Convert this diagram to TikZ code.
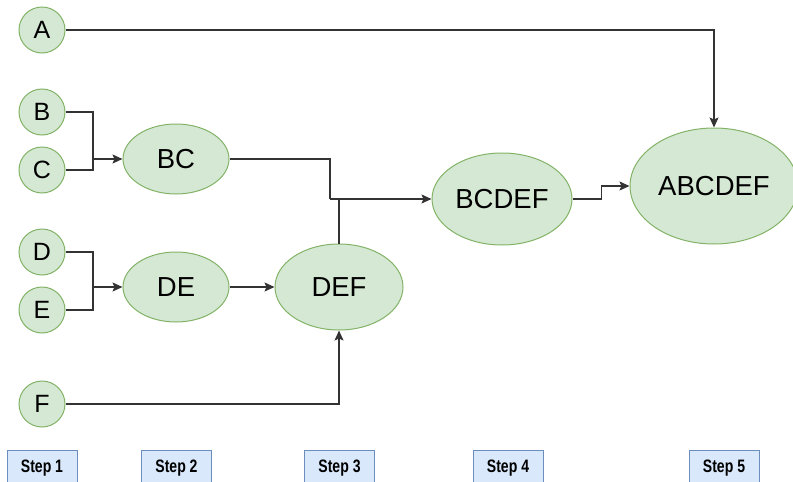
\documentclass[tikz,border=0pt]{standalone}
\usepackage{fontspec}
\setmainfont{Liberation Sans}
\newfontfamily\stepfont[FakeStretch=0.78]{Liberation Sans}
\usetikzlibrary{shapes.geometric,arrows.meta}
\definecolor{setfill}{HTML}{D5E8D4}
\definecolor{setline}{HTML}{82B366}
\definecolor{stepfill}{HTML}{DAE8FC}
\definecolor{stepline}{HTML}{6C8EBF}
\begin{document}
\begin{tikzpicture}[x=1pt, y=-1pt,
    leaf/.style={circle, draw=setline, fill=setfill, line width=1pt, minimum size=46pt, inner sep=0pt, font=\fontsize{25}{27}\selectfont},
    merged/.style={ellipse, draw=setline, fill=setfill, line width=1pt, inner sep=0pt, font=\fontsize{27.5}{30}\selectfont},
    stepbox/.style={draw=stepline, fill=stepfill, line width=1pt, minimum width=70pt, minimum height=36pt, inner sep=0pt, font=\stepfont\bfseries\fontsize{18}{20}\selectfont},
    link/.style={draw=black!80, line width=1.2pt},
    >={Stealth[length=10pt,width=9pt,inset=2pt]}]
\useasboundingbox (0,0) rectangle (793,482);

% Single elements (step 1)
\node[leaf] (A) at (42,30) {A};
\node[leaf] (B) at (42,112) {B};
\node[leaf] (C) at (42,170) {C};
\node[leaf] (D) at (42,252) {D};
\node[leaf] (E) at (42,310) {E};
\node[leaf] (F) at (42,404) {F};

% Merged sets
\node[merged, minimum width=106pt, minimum height=70pt] (BC) at (176,159) {BC};
\node[merged, minimum width=106pt, minimum height=70pt] (DE) at (176,287) {DE};
\node[merged, minimum width=128pt, minimum height=86pt] (DEF) at (339,287) {DEF};
\node[merged, minimum width=140pt, minimum height=92pt] (BCDEF) at (502,199) {BCDEF};
\node[merged, minimum width=168pt, minimum height=116pt] (ABCDEF) at (714,186) {ABCDEF};

% Junction points
\coordinate (bcj) at (93,159);
\coordinate (dej) at (93,287);
\coordinate (mj) at (330,199);

% Connectors
\draw[link] (B) -| (bcj);
\draw[link] (C) -| (bcj);
\draw[link,->] (bcj) -- (BC);
\draw[link] (D) -| (dej);
\draw[link] (E) -| (dej);
\draw[link,->] (dej) -- (DE);
\draw[link,->] (DE) -- (DEF);
\draw[link,->] (F) -| (DEF.south);
\draw[link] (BC) -| (mj);
\draw[link] (DEF) -- (DEF |- mj);
\draw[link,->] (mj) -- (BCDEF);
\draw[link,->] (BCDEF.east) -- ++(29,0) |- (ABCDEF.west);
\draw[link,->] (A) -| (ABCDEF.north);

% Step labels
\node[stepbox] (s1) at (42,468) {Step 1};
\node[stepbox] (s2) at (176.5,468) {Step 2};
\node[stepbox] (s3) at (339.5,468) {Step 3};
\node[stepbox] (s4) at (508,468) {Step 4};
\node[stepbox] (s5) at (724,468) {Step 5};

\end{tikzpicture}
\end{document}
